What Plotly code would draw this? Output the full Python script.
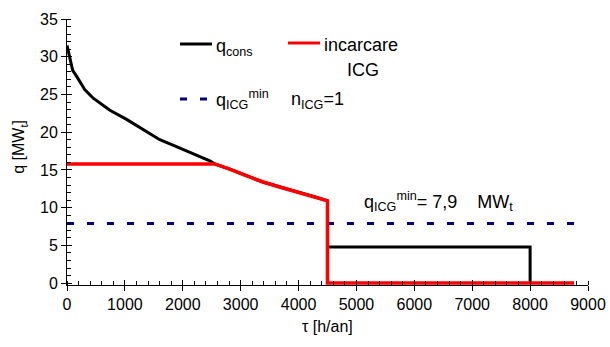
import plotly.graph_objects as go

# ---- data ----
tau_cons = [0, 98, 167, 310, 453, 598, 741, 1029, 1316, 1603, 1891, 2178, 2466,
            2552, 2810, 3385, 3730, 4017, 4305, 4500, 4500, 8000, 8000]
q_cons = [31.5, 28.2, 27.4, 25.6, 24.5, 23.7, 22.9, 21.7, 20.3, 19.0, 18.1, 17.2, 16.2,
          15.8, 15.1, 13.4, 12.6, 12.0, 11.4, 10.9, 4.8, 4.8, 0]

tau_icg = [0, 2552, 2810, 3385, 3730, 4017, 4305, 4500, 4500, 8760]
q_icg = [15.8, 15.8, 15.1, 13.4, 12.6, 12.0, 11.4, 10.9, 0, 0]

tau_min = [0, 8760]
q_min = [7.9, 7.9]

x_ticks = [0, 1000, 2000, 3000, 4000, 5000, 6000, 7000, 8000, 9000]
y_ticks = [0, 5, 10, 15, 20, 25, 30, 35]

FONT = "Liberation Sans, Arial, sans-serif"
NAVY = "#000080"
Y_RANGE = [-0.25, 35]

fig = go.Figure()
fig.add_trace(go.Scatter(x=tau_min, y=q_min, mode="lines",
                         line=dict(color=NAVY, width=3, dash="7px,13px"),
                         showlegend=False))
fig.add_trace(go.Scatter(x=tau_cons, y=q_cons, mode="lines",
                         line=dict(color="black", width=3),
                         showlegend=False))
fig.add_trace(go.Scatter(x=tau_icg, y=q_icg, mode="lines",
                         line=dict(color="#FF0000", width=3.5),
                         showlegend=False))
# invisible trace for overlay axes (inside part of major ticks)
fig.add_trace(go.Scatter(x=[0], y=[0], xaxis="x2", yaxis="y2", mode="markers",
                         marker=dict(opacity=0), showlegend=False, hoverinfo="skip"))

axis_common = dict(showgrid=False, zeroline=False, showline=True, linecolor="black",
                   linewidth=1, ticks="outside", ticklen=5, tickcolor="black",
                   automargin=False,
                   tickfont=dict(family=FONT, size=16, color="black"))

fig.update_layout(
    width=610, height=347, autosize=False,
    margin=dict(l=67, r=22, t=19, b=62, autoexpand=False),
    paper_bgcolor="white", plot_bgcolor="white",
    font=dict(family=FONT, size=16, color="black"),
    xaxis=dict(range=[0, 9000], tickvals=x_ticks, ticktext=[str(v) for v in x_ticks],
               minor=dict(ticks="inside", dtick=200, ticklen=4, tickcolor="black"),
               **axis_common),
    yaxis=dict(range=Y_RANGE, tickvals=y_ticks, ticktext=[str(v) for v in y_ticks],
               minor=dict(ticks="inside", dtick=1, ticklen=4, tickcolor="black"),
               **axis_common),
    xaxis2=dict(overlaying="x", range=[0, 9000], tickvals=x_ticks, ticks="inside",
                ticklen=5, tickcolor="black", showticklabels=False, showline=False,
                showgrid=False, zeroline=False, anchor="y2", automargin=False),
    yaxis2=dict(overlaying="y", range=Y_RANGE, tickvals=y_ticks, ticks="inside",
                ticklen=5, tickcolor="black", showticklabels=False, showline=False,
                showgrid=False, zeroline=False, anchor="x2", automargin=False),
)

# axis titles
fig.add_annotation(text="τ [h/an]", xref="paper", yref="paper", x=0.5, y=-0.155,
                   xanchor="center", yanchor="middle", showarrow=False,
                   font=dict(family=FONT, size=16))
fig.add_annotation(text="q [MW<sub>t</sub>]", xref="paper", yref="paper", x=-0.09, y=0.52,
                   xanchor="center", yanchor="middle", showarrow=False, textangle=-90,
                   font=dict(family=FONT, size=16))

# custom legend (pixel positions converted to paper fractions)
PL, PR, PT, PB = 67, 588, 19, 285
def px2x(px):
    return (px - PL) / (PR - PL)
def px2y(py):
    return (PB - py) / (PB - PT)

legend_lines = [
    (180, 212, 44, "black", None),
    (288, 320, 43, "#FF0000", None),
    (180, 208, 99, NAVY, "dash"),
]
for x0, x1, yy, col, dash in legend_lines:
    fig.add_shape(type="line", xref="paper", yref="paper",
                  x0=px2x(x0), x1=px2x(x1), y0=px2y(yy), y1=px2y(yy),
                  line=dict(color=col, width=3, dash="7px,13px" if dash else "solid"))

legend_texts = [
    ("q<sub>cons</sub>", 214, 47, "left"),
    ("incarcare", 322, 45, "left"),
    ("ICG", 363, 70, "center"),
    ("q<sub>ICG</sub><sup>min</sup>", 214, 99, "left"),
    ("n<sub>ICG</sub>=1", 289, 100, "left"),
    ("q<sub>ICG</sub><sup>min</sup>= 7,9    MW<sub>t</sub>", 362, 201, "left"),
]
for txt, px, py, anc in legend_texts:
    fig.add_annotation(text=txt, xref="paper", yref="paper", x=px2x(px), y=px2y(py),
                       xanchor=anc, yanchor="middle", showarrow=False,
                       font=dict(family=FONT, size=18, color="black"))

fig.write_html(
    "out.html",
    config={"displayModeBar": False, "responsive": False},
    post_script="document.body.style.margin='0';document.body.style.overflow='hidden';"
                "document.documentElement.style.overflow='hidden';",
)
